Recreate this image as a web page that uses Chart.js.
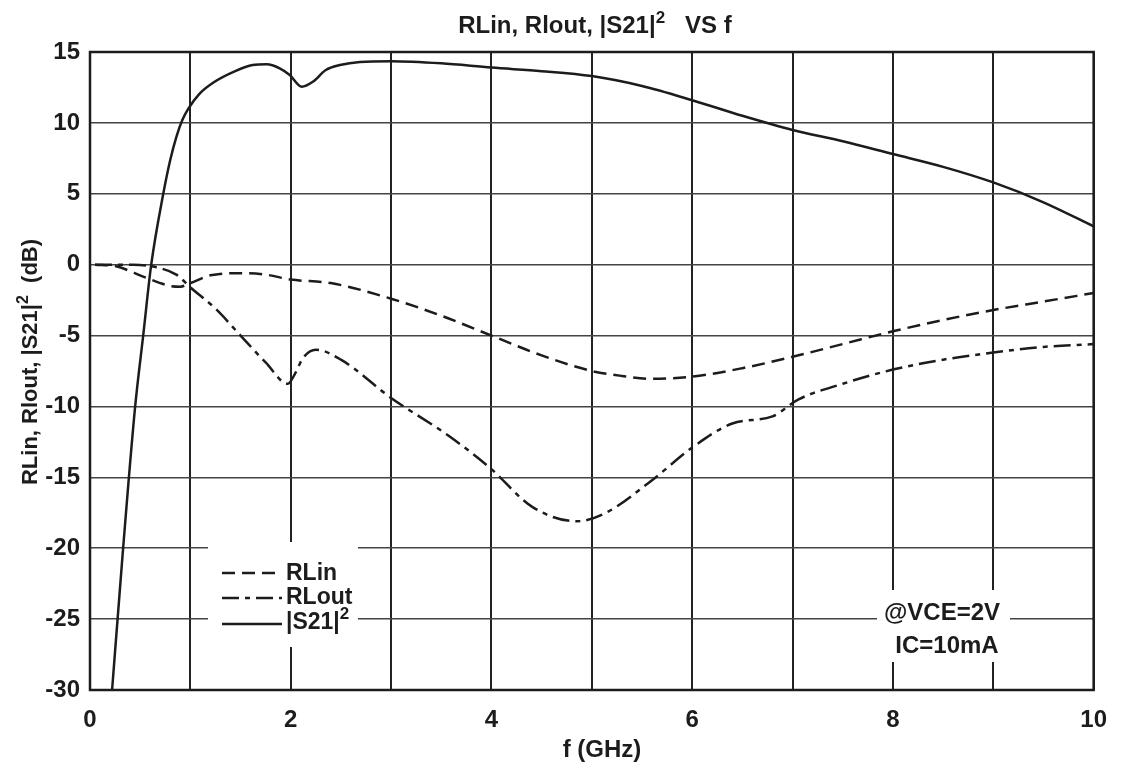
<!DOCTYPE html>
<html lang="en">
<head>
    <meta charset="UTF-8">
    <title>RLin, Rlout, |S21|2 VS f</title>
    <script src="https://cdn.jsdelivr.net/npm/chart.js"></script>
    <style>
        body { margin: 0; background: #fff; }
    </style>
</head>
<body>
    <canvas id="myChart" width="1123" height="773"></canvas>
    <script>
        // values
        var s21Freq = [0.22, 0.33, 0.45, 0.53, 0.61, 0.73, 0.8, 0.86, 0.92, 0.98, 1.09, 1.23, 1.43, 1.62, 1.76, 1.89, 1.99, 2.11, 2.22, 2.35, 2.49, 2.69, 3.0, 3.5, 4.0, 4.5, 5.0, 5.5, 6.0, 6.5, 7.0, 7.5, 8.0, 8.5, 9.0, 9.5, 10];
        var s21Gain = [-30, -20, -10, -5, 0, 5, 7.4, 9.0, 10.2, 11.0, 12.05, 12.85, 13.6, 14.08, 14.13, 13.85, 13.38, 12.55, 12.9, 13.73, 14.08, 14.3, 14.35, 14.2, 13.9, 13.65, 13.3, 12.6, 11.6, 10.5, 9.5, 8.7, 7.8, 6.9, 5.8, 4.4, 2.7];

        var rlinFreq = [0.05, 0.25, 0.55, 0.8, 0.9, 1.0, 1.2, 1.5, 1.75, 2.0, 2.4, 3.0, 3.5, 4.0, 4.5, 5.0, 5.3, 5.6, 6.0, 6.5, 7.0, 7.5, 8.0, 8.5, 9.0, 9.5, 10];
        var rlinVal = [0, -0.1, -0.9, -1.5, -1.55, -1.3, -0.75, -0.6, -0.7, -1.05, -1.3, -2.4, -3.6, -5.0, -6.4, -7.5, -7.85, -8.05, -7.9, -7.3, -6.5, -5.6, -4.7, -3.9, -3.2, -2.6, -2.0];

        var rloutFreq = [0.05, 0.43, 0.67, 0.86, 1.0, 1.25, 1.5, 1.75, 1.97, 2.05, 2.12, 2.25, 2.5, 3.0, 3.58, 3.98, 4.41, 4.85, 5.14, 5.6, 6.0, 6.4, 6.8, 7.06, 7.5, 8.0, 8.5, 9.0, 9.5, 10];
        var rloutVal = [0, 0, -0.2, -0.7, -1.6, -3.1, -5.0, -6.9, -8.4, -7.6, -6.6, -6.0, -6.7, -9.4, -12.1, -14.3, -17.1, -18.1, -17.5, -15.2, -12.9, -11.2, -10.7, -9.5, -8.4, -7.4, -6.7, -6.2, -5.8, -5.6];

        var xTicks = [0, 2, 4, 6, 8, 10];
        var legendLabels = ['RLin', 'RLout', '|S21|'];
        var noteLines = ['@VCE=2V', 'IC=10mA'];

        var dashRLin = [13, 7];
        var dashRLout = [17, 6, 5, 6];
        var font = '"Liberation Sans", Arial, sans-serif';
        var ink = '#1c1c1c';

        function pts(xs, ys) {
            return xs.map(function(x, i) { return { x: x, y: ys[i] }; });
        }

        // text runs with superscripts
        function fontFor(p, size) {
            return 'bold ' + (p.sup ? Math.round(size * 0.72) : size) + 'px ' + font;
        }
        function runWidth(ctx, parts, size) {
            var w = 0;
            parts.forEach(function(p) {
                ctx.font = fontFor(p, size);
                w += ctx.measureText(p.t).width;
            });
            return w;
        }
        function drawRun(ctx, parts, x, y, size, align) {
            var w = runWidth(ctx, parts, size);
            var cx = align === 'center' ? x - w / 2 : x;
            ctx.textBaseline = 'alphabetic';
            ctx.textAlign = 'left';
            parts.forEach(function(p) {
                ctx.font = fontFor(p, size);
                ctx.fillText(p.t, cx, p.sup ? y - size * 0.42 : y);
                cx += ctx.measureText(p.t).width;
            });
        }

        var decor = {
            id: 'decor',
            afterDraw: function(chart) {
                var ctx = chart.ctx;
                var a = chart.chartArea;
                ctx.save();

                // frame
                ctx.strokeStyle = ink;
                ctx.lineWidth = 2.5;
                ctx.strokeRect(a.left, a.top, a.right - a.left, a.bottom - a.top);

                // legend box
                ctx.fillStyle = '#fff';
                ctx.fillRect(208, 542, 150, 105);
                var ly = [573, 598, 624];
                var dashes = [dashRLin, dashRLout, []];
                ctx.strokeStyle = ink;
                ctx.lineWidth = 2.5;
                for (var i = 0; i < 3; i++) {
                    ctx.setLineDash(dashes[i]);
                    ctx.beginPath();
                    ctx.moveTo(222, ly[i]);
                    ctx.lineTo(282, ly[i]);
                    ctx.stroke();
                }
                ctx.setLineDash([]);
                ctx.fillStyle = ink;
                drawRun(ctx, [{ t: legendLabels[0] }], 286, 580, 23, 'left');
                drawRun(ctx, [{ t: legendLabels[1] }], 286, 604, 23, 'left');
                drawRun(ctx, [{ t: legendLabels[2] }, { t: '2', sup: true }], 286, 629, 23, 'left');

                // condition note
                ctx.fillStyle = '#fff';
                ctx.fillRect(877, 590, 133, 72);
                ctx.fillStyle = ink;
                drawRun(ctx, [{ t: noteLines[0] }], 942, 620, 24, 'center');
                drawRun(ctx, [{ t: noteLines[1] }], 947, 653, 24, 'center');

                // title
                drawRun(ctx, [{ t: 'RLin, Rlout, |S21|' }, { t: '2', sup: true }, { t: '   VS f' }], 595, 33, 24, 'center');

                // axis titles
                drawRun(ctx, [{ t: 'f (GHz)' }], 602, 757, 24, 'center');
                ctx.translate(37, 362);
                ctx.rotate(-Math.PI / 2);
                drawRun(ctx, [{ t: 'RLin, Rlout, |S21|' }, { t: '2', sup: true }, { t: '  (dB)' }], 0, 0, 22, 'center');
                ctx.restore();
            }
        };

        var ctx = document.getElementById('myChart').getContext('2d');
        var myChart = new Chart(ctx, {
            type: 'line',
            data: {
                datasets: [{
                    label: 'RLin',
                    data: pts(rlinFreq, rlinVal),
                    borderColor: ink,
                    borderWidth: 2.5,
                    borderDash: dashRLin
                }, {
                    label: 'RLout',
                    data: pts(rloutFreq, rloutVal),
                    borderColor: ink,
                    borderWidth: 2.5,
                    borderDash: dashRLout
                }, {
                    label: '|S21|2',
                    data: pts(s21Freq, s21Gain),
                    borderColor: ink,
                    borderWidth: 2.5
                }]
            },
            options: {
                responsive: false,
                animation: false,
                layout: { padding: { top: 52, right: 28, left: 0, bottom: 0 } },
                elements: {
                    point: { radius: 0 },
                    line: { cubicInterpolationMode: 'monotone', fill: false }
                },
                plugins: {
                    legend: { display: false },
                    title: { display: false },
                    tooltip: { enabled: false }
                },
                scales: {
                    x: {
                        type: 'linear',
                        min: 0,
                        max: 10,
                        afterFit: function(s) { s.height = 83; },
                        grid: { color: '#222', lineWidth: 2, drawTicks: false },
                        border: { display: false },
                        ticks: {
                            stepSize: 1,
                            padding: 16,
                            color: ink,
                            font: { size: 24, family: font, weight: 'bold' },
                            maxRotation: 0,
                            autoSkip: false,
                            callback: function(v) { return xTicks.indexOf(v) >= 0 ? v : ''; }
                        }
                    },
                    y: {
                        min: -30,
                        max: 15,
                        afterFit: function(s) { s.width = 90; },
                        grid: { color: '#444', lineWidth: 1.5, drawTicks: false },
                        border: { display: false },
                        ticks: {
                            stepSize: 5,
                            padding: 10,
                            color: ink,
                            font: { size: 24, family: font, weight: 'bold' }
                        }
                    }
                }
            },
            plugins: [decor]
        });
    </script>
</body>
</html>
